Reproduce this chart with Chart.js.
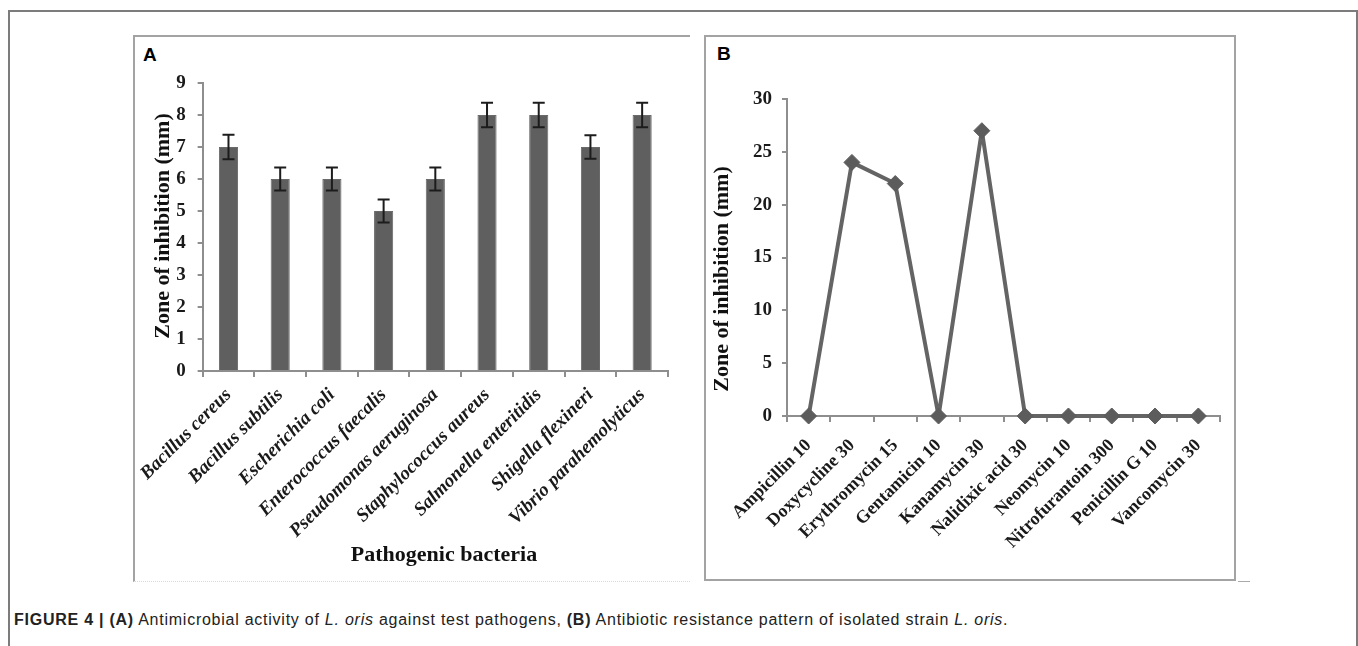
<!DOCTYPE html>
<html>
<head>
<meta charset="utf-8">
<script src="https://cdn.jsdelivr.net/npm/chart.js@4.4.1/dist/chart.umd.min.js"></script>
<style>
  body { margin: 0; width: 1358px; height: 646px; overflow: hidden; position: relative; background: #fff; font-family: "Liberation Sans", Arial, sans-serif; }
  #frame { position: absolute; left: 8px; top: 10px; width: 1346px; height: 660px; border: 2px solid #7c7c7c; border-bottom: none; }
  #boxA { position: absolute; left: 133px; top: 35px; width: 555px; height: 544px; border-top: 2px solid #a3a3a3; border-left: 2px solid #a3a3a3; border-bottom: 1px dotted #dadada; }
  #boxB { position: absolute; left: 704px; top: 35px; width: 528px; height: 542px; border: 2px solid #a3a3a3; }
  #dash { position: absolute; left: 1238px; top: 581px; width: 12px; height: 1px; background: #aaa; }
  .lbl { position: absolute; font: bold 19px "Liberation Sans", Arial, sans-serif; color: #000; }
  canvas { position: absolute; }
  #cap { position: absolute; left: 14px; top: 611px; font-size: 16px; letter-spacing: 0.75px; font-family: "Liberation Sans", Arial, sans-serif; color: #222; white-space: nowrap; }
</style>
</head>
<body>
<div id="frame"></div>
<div id="boxA"></div>
<div id="boxB"></div>
<div id="dash"></div>
<div class="lbl" style="left:143px;top:44px">A</div>
<div class="lbl" style="left:717px;top:43px">B</div>
<canvas id="chartA" width="556" height="544" style="left:133px;top:36px"></canvas>
<canvas id="chartB" width="529" height="543" style="left:705px;top:36px"></canvas>
<div id="cap"><b>FIGURE 4 | (A)</b> Antimicrobial activity of <i>L. oris</i> against test pathogens, <b>(B)</b> Antibiotic resistance pattern of isolated strain <i>L. oris</i>.</div>
<script>
// panel A
const bacteria = ["Bacillus cereus", "Bacillus subtilis", "Escherichia coli", "Enterococcus faecalis",
  "Pseudomonas aeruginosa", "Staphylococcus aureus", "Salmonella enteritidis", "Shigella flexineri",
  "Vibrio parahemolyticus"];
const zoneA = [7, 6, 6, 5, 6, 8, 8, 7, 8];
const errA = [0.38, 0.36, 0.36, 0.36, 0.36, 0.38, 0.38, 0.37, 0.38];

// panel B
const antibiotics = ["Ampicillin 10", "Doxycycline 30", "Erythromycin 15", "Gentamicin 10", "Kanamycin 30",
  "Nalidixic acid 30", "Neomycin 10", "Nitrofurantoin 300", "Penicillin G 10", "Vancomycin 30"];
const zoneB = [0, 24, 22, 0, 27, 0, 0, 0, 0, 0];

const serif = "Liberation Serif";
const axisGrey = "#8e8e8e";

const errorBars = {
  id: "errorBars",
  afterDatasetsDraw(chart) {
    const meta = chart.getDatasetMeta(0);
    const y = chart.scales.y;
    const ctx = chart.ctx;
    ctx.save();
    ctx.strokeStyle = "#1c1c1c";
    ctx.lineWidth = 2;
    meta.data.forEach((bar, i) => {
      const top = y.getPixelForValue(zoneA[i] + errA[i]);
      const bot = y.getPixelForValue(zoneA[i] - errA[i]);
      ctx.beginPath();
      ctx.moveTo(bar.x, top); ctx.lineTo(bar.x, bot);
      ctx.moveTo(bar.x - 6, top); ctx.lineTo(bar.x + 6, top);
      ctx.moveTo(bar.x - 6, bot); ctx.lineTo(bar.x + 6, bot);
      ctx.stroke();
    });
    ctx.restore();
  }
};

// axis titles drawn by hand so they can sit where the original put them
const axisTitles = {
  id: "axisTitles",
  afterDraw(chart, args, opts) {
    const ctx = chart.ctx;
    (opts.items || []).forEach(t => {
      ctx.save();
      ctx.translate(t.x, t.y);
      ctx.rotate(t.rot || 0);
      ctx.font = "bold 22px " + serif;
      ctx.fillStyle = "#111";
      ctx.textAlign = "center";
      ctx.textBaseline = "middle";
      ctx.fillText(t.text, 0, 0);
      ctx.restore();
    });
  }
};

new Chart(document.getElementById("chartA"), {
  type: "bar",
  data: {
    labels: bacteria,
    datasets: [{
      data: zoneA,
      backgroundColor: "#5f5f5f",
      borderColor: "#6a6a6a",
      borderWidth: 1,
      categoryPercentage: 1,
      barPercentage: 0.37,
    }]
  },
  options: {
    responsive: false,
    animation: false,
    layout: { padding: { top: 47, right: 21 } },
    plugins: {
      legend: { display: false },
      tooltip: { enabled: false },
      axisTitles: {
        items: [
          { text: "Zone of inhibition (mm)", x: 30, y: 190, rot: -Math.PI / 2 },
          { text: "Pathogenic bacteria", x: 311, y: 519 },
        ]
      }
    },
    scales: {
      x: {
        grid: { drawOnChartArea: false, tickLength: 6, color: axisGrey, lineWidth: 2, offset: true },
        border: { color: axisGrey, width: 2 },
        ticks: {
          autoSkip: false, minRotation: 45, maxRotation: 45, padding: 7, color: "#1a1a1a",
          font: { family: serif, size: 19, style: "italic", weight: "bold" }
        },
        afterFit(s) { s.height = 209; }
      },
      y: {
        min: 0, max: 9,
        grid: { drawOnChartArea: false, tickLength: 5, color: axisGrey, lineWidth: 2 },
        border: { color: axisGrey, width: 2 },
        ticks: { stepSize: 1, padding: 12, color: "#1a1a1a", font: { family: serif, size: 19, weight: "bold" } },
        afterFit(s) { s.width = 68; }
      }
    }
  },
  plugins: [errorBars, axisTitles]
});

new Chart(document.getElementById("chartB"), {
  type: "line",
  data: {
    labels: antibiotics,
    datasets: [{
      data: zoneB,
      borderColor: "#646464",
      borderWidth: 4,
      borderJoinStyle: "bevel",
      tension: 0,
      clip: false,
      pointStyle: "rectRot",
      pointRadius: 8,
      pointBackgroundColor: "#5c5c5c",
      pointBorderColor: "#5c5c5c",
      pointBorderWidth: 1,
    }]
  },
  options: {
    responsive: false,
    animation: false,
    layout: { padding: { top: 63, right: 14 } },
    plugins: {
      legend: { display: false },
      tooltip: { enabled: false },
      axisTitles: {
        items: [{ text: "Zone of inhibition (mm)", x: 17, y: 243, rot: -Math.PI / 2 }]
      }
    },
    scales: {
      x: {
        offset: true,
        grid: { drawOnChartArea: false, tickLength: 6, color: axisGrey, lineWidth: 2, offset: true },
        border: { color: axisGrey, width: 2 },
        ticks: {
          autoSkip: false, minRotation: 45, maxRotation: 45, padding: 13, color: "#1a1a1a",
          font: { family: serif, size: 18, weight: "bold" }
        },
        afterFit(s) { s.height = 163; }
      },
      y: {
        min: 0, max: 30,
        grid: { drawOnChartArea: false, tickLength: 5, color: axisGrey, lineWidth: 2 },
        border: { color: axisGrey, width: 2 },
        ticks: { stepSize: 5, padding: 10, color: "#1a1a1a", font: { family: serif, size: 19, weight: "bold" } },
        afterFit(s) { s.width = 82; }
      }
    }
  },
  plugins: [axisTitles]
});
</script>
</body>
</html>
